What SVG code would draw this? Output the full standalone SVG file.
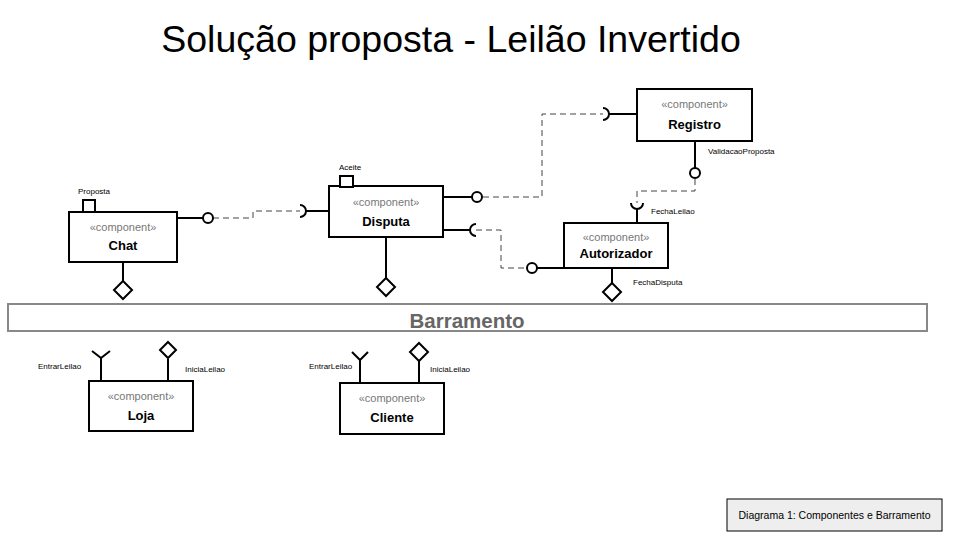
<svg xmlns="http://www.w3.org/2000/svg" width="960" height="540" viewBox="0 0 960 540">
<style>
text{font-family:"Liberation Sans",Arial,sans-serif}
.box{fill:#fff;stroke:#000;stroke-width:2}
.st{font-size:11px;fill:#777;text-anchor:middle}
.nm{font-size:13px;font-weight:bold;fill:#000;text-anchor:middle}
.lb{font-size:8px;fill:#000}
.ln{fill:none;stroke:#000;stroke-width:2}
.ball{fill:#fff;stroke:#000;stroke-width:2}
.dash{fill:none;stroke:#444;stroke-width:1;stroke-dasharray:6,4}
</style>
<rect width="960" height="540" fill="#fff"/>
<text x="451" y="52" font-size="37.5" text-anchor="middle" fill="#000">Solução proposta - Leilão Invertido</text>

<g id="connectors">
<path class="dash" d="M213,218 H253 V211 H300"/>
<path class="dash" d="M483,197 H542 V114 H603"/>
<path class="dash" d="M695,179 V191 H637 V203"/>
<path class="dash" d="M476,230 H501 V268 H526"/>
</g>

<g id="barramento">
<rect x="8" y="304" width="919" height="27" fill="#fff" stroke="#888" stroke-width="2"/>
<text x="467" y="328" font-size="20.5" font-weight="bold" fill="#666" text-anchor="middle">Barramento</text>
</g>

<g id="chat">
<rect class="box" x="69" y="212" width="108" height="50"/>
<rect class="box" x="83" y="200" width="12" height="12"/>
<text class="lb" x="78" y="194">Proposta</text>
<text class="st" x="123" y="231">«component»</text>
<text class="nm" x="123" y="250">Chat</text>
<path class="ln" d="M177,218 H203"/>
<circle class="ball" cx="208" cy="218" r="5"/>
<path class="ln" d="M123,262 V281"/>
<path class="ball" d="M123,281 L132,290 L123,299 L114,290 Z"/>
</g>

<g id="disputa">
<rect class="box" x="329" y="186" width="114" height="51"/>
<rect class="box" x="340" y="176" width="13" height="11"/>
<text class="lb" x="339" y="170">Aceite</text>
<text class="st" x="386" y="206">«component»</text>
<text class="nm" x="386" y="226">Disputa</text>
<path class="ln" d="M329,211 H305"/>
<path class="ln" d="M300,205 A6,6 0 0 1 300,217"/>
<path class="ln" d="M443,197 H472"/>
<circle class="ball" cx="477" cy="197" r="5"/>
<path class="ln" d="M443,230 H470"/>
<path class="ln" d="M476,224 A6,6 0 0 0 476,236"/>
<path class="ln" d="M386,237 V278"/>
<path class="ball" d="M386,278 L395,287 L386,296 L377,287 Z"/>
</g>

<g id="registro">
<rect class="box" x="637" y="89" width="115" height="52"/>
<text class="st" x="694.5" y="108">«component»</text>
<text class="nm" x="694.5" y="129">Registro</text>
<path class="ln" d="M637,114 H609"/>
<path class="ln" d="M603,108 A6,6 0 0 1 603,120"/>
<path class="ln" d="M695,141 V168"/>
<circle class="ball" cx="695" cy="173" r="5"/>
<text class="lb" x="708" y="154">ValidacaoProposta</text>
</g>

<g id="autorizador">
<rect class="box" x="564" y="223" width="104" height="45"/>
<text class="st" x="616" y="241">«component»</text>
<text class="nm" x="616" y="258">Autorizador</text>
<path class="ln" d="M631,203 A6,6 0 0 0 643,203"/>
<path class="ln" d="M637,209 V223"/>
<text class="lb" x="651" y="214">FechaLeilao</text>
<path class="ln" d="M564,268 H537"/>
<circle class="ball" cx="532" cy="268" r="5"/>
<path class="ln" d="M612,268 V283"/>
<path class="ball" d="M612,283 L621,292 L612,301 L603,292 Z"/>
<text class="lb" x="633" y="285">FechaDisputa</text>
</g>

<g id="loja">
<rect class="box" x="89" y="381" width="104" height="50"/>
<text class="st" x="141" y="400">«component»</text>
<text class="nm" x="141" y="420">Loja</text>
<path class="ln" d="M101,381 V358 M92,351 L101,358 L110,351"/>
<text class="lb" x="38" y="369">EntrarLeilao</text>
<path class="ln" d="M168,381 V359"/>
<path class="ball" d="M168,342 L176,350 L168,358 L160,350 Z"/>
<text class="lb" x="185" y="372">IniciaLeilao</text>
</g>

<g id="cliente">
<rect class="box" x="340" y="383" width="104" height="51"/>
<text class="st" x="392" y="402">«component»</text>
<text class="nm" x="392" y="422">Cliente</text>
<path class="ln" d="M360,383 V360 M352,352 L360,360 L368,352"/>
<text class="lb" x="309" y="369">EntrarLeilao</text>
<path class="ln" d="M419,383 V361"/>
<path class="ball" d="M419,343 L428,352 L419,361 L410,352 Z"/>
<text class="lb" x="430" y="372">IniciaLeilao</text>
</g>

<g id="caption">
<rect x="727" y="499" width="215" height="32" fill="#eee" stroke="#000" stroke-width="1"/>
<text x="834.5" y="519" font-size="10.5" text-anchor="middle" fill="#000">Diagrama 1: Componentes e Barramento</text>
</g>
</svg>
